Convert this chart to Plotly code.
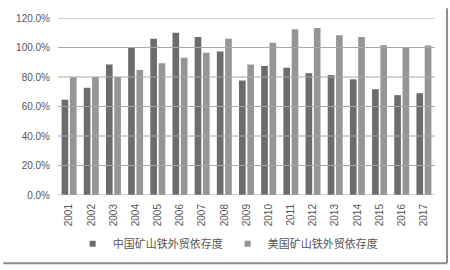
import plotly.graph_objects as go

years = [str(y) for y in range(2001, 2018)]
china = [64.6, 72.7, 88.5, 100.0, 106.0, 110.0, 107.2, 97.3, 77.6, 87.5, 86.3, 82.6, 81.3, 78.4, 71.7, 67.7, 69.0]
usa = [79.8, 80.0, 80.0, 84.8, 89.4, 93.1, 96.4, 106.0, 88.5, 103.3, 112.3, 113.2, 108.3, 107.2, 101.5, 99.7, 101.3]
name_cn = "中国矿山铁外贸依存度"
name_us = "美国矿山铁外贸依存度"
yticks = [0, 20, 40, 60, 80, 100, 120]
c_cn = "#6c6c6c"
c_us = "#959595"

fig = go.Figure()
fig.add_trace(go.Bar(x=years, y=china, name=name_cn, marker_color=c_cn, marker_line_width=0, showlegend=False))
fig.add_trace(go.Bar(x=years, y=usa, name=name_us, marker_color=c_us, marker_line_width=0, showlegend=False))
fig.add_trace(go.Scatter(x=[None], y=[None], mode="markers", name=name_cn,
                         marker=dict(symbol="square", size=6, color=c_cn)))
fig.add_trace(go.Scatter(x=[None], y=[None], mode="markers", name=name_us,
                         marker=dict(symbol="square", size=6, color=c_us)))

fig.update_layout(
    width=450, height=270,
    margin=dict(l=58, r=15, t=15, b=73),
    paper_bgcolor="white", plot_bgcolor="white",
    barmode="group", bargap=0.25, bargroupgap=0.2,
    font=dict(family="Liberation Sans, Noto Sans CJK SC", size=10, color="#555555"),
    xaxis=dict(type="category", tickangle=-90, showgrid=False, showline=False,
               ticks="", tickfont=dict(size=10), ticklabelstandoff=6),
    yaxis=dict(range=[0, 120], tickvals=yticks, ticktext=[f"{v:.1f}%" for v in yticks],
               showgrid=False, zeroline=False,
               showline=False, ticks="", tickfont=dict(size=10), ticklabelstandoff=7),
    legend=dict(orientation="h", x=0.45, xanchor="center", y=-0.275, yanchor="middle",
                font=dict(size=11, color="#555555"), itemwidth=30, tracegroupgap=0),
    showlegend=True,
)
for v in yticks:
    fig.add_shape(type="line", xref="paper", yref="y", x0=0, x1=1, y0=v, y1=v,
                  line=dict(color="#a8a8a8", width=1), layer="above")
fig.add_shape(type="line", xref="paper", yref="paper", x0=1.032, x1=1.032, y0=1.055, y1=-0.385,
              line=dict(color="#8a8a8a", width=2))
fig.add_shape(type="line", xref="paper", yref="paper", x0=-0.145, x1=1.032, y0=-0.385, y1=-0.385,
              line=dict(color="#8a8a8a", width=2))
fig.write_html("out.html")
